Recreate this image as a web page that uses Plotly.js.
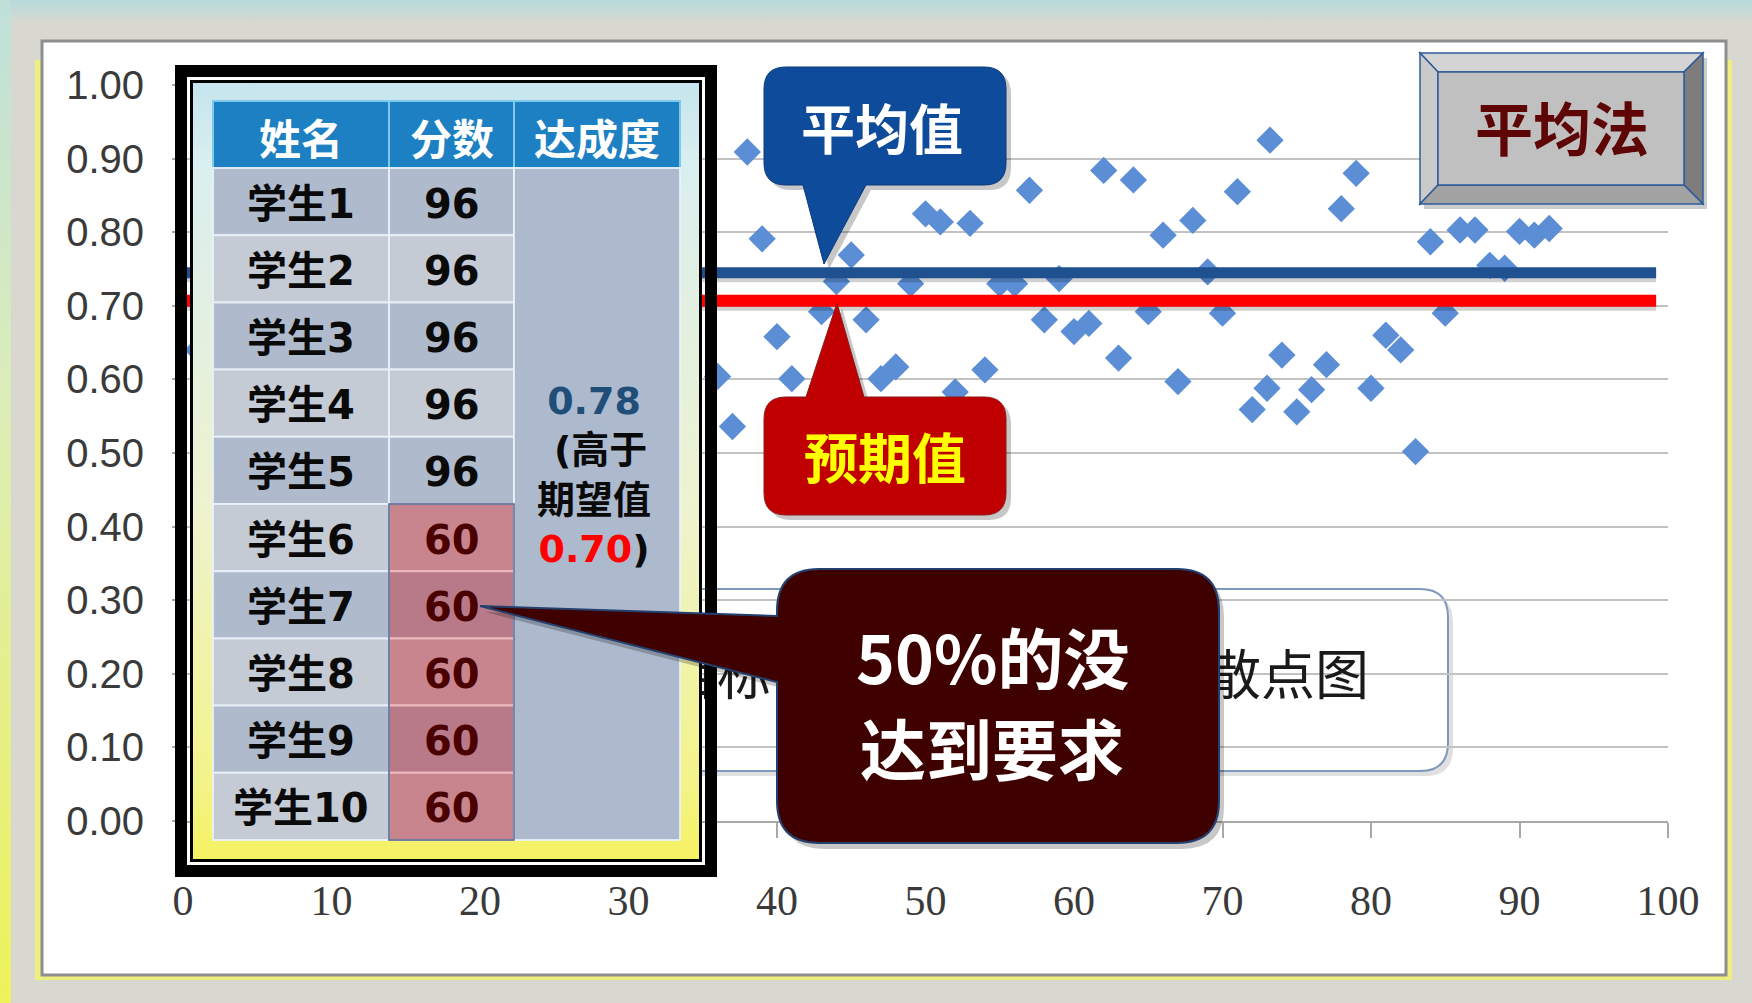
<!DOCTYPE html>
<html><head><meta charset="utf-8">
<script src="https://cdn.plot.ly/plotly-3.0.1.min.js"></script>
<style>html,body{margin:0;padding:0;background:#d9d8d0;overflow:hidden}#chart{width:1752px;height:1003px}</style>
</head><body><div id="chart"></div>
<script>
// ---------- data ----------
const xTicks = [0,10,20,30,40,50,60,70,80,90,100];
const yTicks = [0,0.1,0.2,0.3,0.4,0.5,0.6,0.7,0.8,0.9,1.0];
const yTickLabels = ['0.00','0.10','0.20','0.30','0.40','0.50','0.60','0.70','0.80','0.90','1.00'];
const pointX = [1,36,37,38,39,40,41,43,44,45,46,47,48,49,50,51,52,53,54,55,56,57,58,59,60,61,62,63,64,65,66,67,68,69,70,71,72,73,73.2,74,75,76,77,78,79,80,81,82,83,84,85,86,87,88,89,90,91,92];
const pointY = [0.64,0.604,0.536,0.909,0.791,0.658,0.601,0.692,0.733,0.769,0.681,0.601,0.617,0.730,0.825,0.814,0.583,0.812,0.613,0.730,0.730,0.857,0.681,0.737,0.665,0.676,0.884,0.629,0.871,0.692,0.796,0.597,0.816,0.746,0.690,0.855,0.559,0.588,0.925,0.633,0.556,0.586,0.620,0.832,0.880,0.588,0.660,0.640,0.502,0.787,0.690,0.803,0.803,0.755,0.751,0.801,0.796,0.805];
const lineX = [0, 99.2];
const meanLine = [0.745, 0.745];
const expectLine = [0.707, 0.707];
const headers = ['姓名','分数','达成度'];
const names = ['学生1','学生2','学生3','学生4','学生5','学生6','学生7','学生8','学生9','学生10'];
const scores = [96,96,96,96,96,60,60,60,60,60];
const attainment = '0.78';
const expected = '0.70';
const passMark = 70;
const meanLabel = '平均值';
const expectLabel = '预期值';
const failLabel = ['50%的没','达到要求'];
const methodLabel = '平均法';
const boxLabelLeft = '目标';
const boxLabelRight = '散点图';

// ---------- geometry helpers (pixels -> paper) ----------
const W = 1752, H = 1003, L = 183, R = 1668, T = 85, B = 821;
const fx = p => (p - L) / (R - L);
const fy = p => (B - p) / (B - T);
const pt = (x, y) => fx(x).toFixed(5) + ' ' + fy(y).toFixed(5);
const dx = p => (p - L) / (R - L) * 100;
const dy = p => (B - p) / (B - T);

const shapes = [];
const ann = [];
const images = [];
function rect(x0, y0, x1, y1, fill, line, lw, layer) {
  shapes.push({type:'rect', xref:'paper', yref:'paper', x0:fx(x0), x1:fx(x1), y0:fy(y1), y1:fy(y0),
    fillcolor: fill || 'rgba(0,0,0,0)', line:{color: line || 'rgba(0,0,0,0)', width: lw || 0}, layer: layer || 'above'});
}
function path(d, fill, line, lw, layer) {
  shapes.push({type:'path', xref:'paper', yref:'paper', path:d, fillcolor: fill || 'rgba(0,0,0,0)',
    line:{color: line || 'rgba(0,0,0,0)', width: lw || 0}, layer: layer || 'above'});
}
function poly(pts) { return 'M ' + pts.map(p => pt(p[0], p[1])).join(' L ') + ' Z'; }
function rr(x0, y0, x1, y1, r, tail) {
  tail = tail || {};
  const seg = a => (a || []).map(p => 'L ' + pt(p[0], p[1]) + ' ').join('');
  let d = 'M ' + pt(x0 + r, y0) + ' ' + seg(tail.top);
  d += 'L ' + pt(x1 - r, y0) + ' Q ' + pt(x1, y0) + ' ' + pt(x1, y0 + r) + ' ';
  d += 'L ' + pt(x1, y1 - r) + ' Q ' + pt(x1, y1) + ' ' + pt(x1 - r, y1) + ' ' + seg(tail.bottom);
  d += 'L ' + pt(x0 + r, y1) + ' Q ' + pt(x0, y1) + ' ' + pt(x0, y1 - r) + ' ' + seg(tail.left);
  d += 'L ' + pt(x0, y0 + r) + ' Q ' + pt(x0, y0) + ' ' + pt(x0 + r, y0) + ' Z';
  return d;
}
function text(x, y, t, size, color, family, weight, extra) {
  ann.push(Object.assign({xref:'paper', yref:'paper', x:fx(x), y:fy(y), text:t, showarrow:false,
    xanchor:'center', yanchor:'middle', align:'center',
    font:{size:size, color:color, family:family || 'Noto Sans CJK SC', weight: weight || 700}}, extra || {}));
}
function svgUri(s) { return 'data:image/svg+xml;charset=utf-8,' + encodeURIComponent(s); }
function img(svg, x0, y0, x1, y1, layer) {
  images.push({source: svgUri(svg), xref:'paper', yref:'paper', x:fx(x0), y:fy(y0),
    sizex:(x1 - x0) / (R - L), sizey:(y1 - y0) / (B - T), xanchor:'left', yanchor:'top', sizing:'stretch', layer: layer});
}

// ---------- background frame ----------
img(`<svg xmlns='http://www.w3.org/2000/svg' width='${W}' height='${H}' viewBox='0 0 ${W} ${H}' preserveAspectRatio='none'>
<defs>
<linearGradient id='l' x1='0' y1='0' x2='0' y2='1'><stop offset='0' stop-color='#bfe0da'/><stop offset='0.4' stop-color='#dcedb8'/><stop offset='1' stop-color='#eef25a'/></linearGradient>
<linearGradient id='t' x1='0' y1='0' x2='0' y2='1'><stop offset='0' stop-color='#b6dbdb'/><stop offset='1' stop-color='#d9d8d0'/></linearGradient>
</defs>
<rect width='${W}' height='${H}' fill='#d9d8d0'/>
<rect width='${W}' height='24' fill='url(#t)'/>
<rect width='11' height='${H}' fill='url(#l)'/>
<rect x='35' y='60' width='1697' height='920' fill='#eef07e'/>
<rect x='42' y='41' width='1684' height='934' fill='#ffffff' stroke='#8e8e8e' stroke-width='3'/>
</svg>`, 0, 0, W, H, 'below');

// ---------- white label box (between grid and traces) ----------
path(rr(674, 594, 1453, 776, 28), 'rgba(0,0,0,0.12)', null, 0, 'between');
path(rr(670, 589, 1448, 771, 28), '#ffffff', '#7f98bd', 2, 'between');

// ---------- table ----------
img(`<svg xmlns='http://www.w3.org/2000/svg' width='506' height='776' viewBox='0 0 506 776' preserveAspectRatio='none'>
<defs><linearGradient id='g' x1='0' y1='0' x2='0' y2='1'><stop offset='0' stop-color='#c6e5ee'/><stop offset='0.1' stop-color='#d9eeef'/><stop offset='0.55' stop-color='#eef3cf'/><stop offset='0.9' stop-color='#f3f38a'/><stop offset='1' stop-color='#f5f262'/></linearGradient></defs>
<rect width='506' height='776' fill='url(#g)'/></svg>`, 193, 83, 699, 859, 'above');
rect(181, 71, 711, 871, null, '#000000', 12);
rect(191.5, 81.5, 700.5, 860.5, null, '#000000', 3);

const colX = [213, 389, 514, 680];
const headTop = 101, rowTop = 168, rowH = 67.2;
for (let c = 0; c < headers.length; c++) {
  rect(colX[c], headTop, colX[c + 1], rowTop, '#1c80c3', '#7fc8ee', 2);
  text((colX[c] + colX[c + 1]) / 2, (headTop + rowTop) / 2 + 2, headers[c], 42, '#ffffff');
}
for (let i = 0; i < names.length; i++) {
  const y0 = rowTop + rowH * i, y1 = y0 + rowH, ym = (y0 + y1) / 2;
  const odd = i % 2 === 0;
  const grey = odd ? '#afbbcc' : '#c5cbd4';
  const fail = scores[i] < passMark;
  const pink = odd ? '#b87a88' : '#c8858d';
  rect(colX[0], y0, colX[1], y1, grey, 'rgba(235,242,250,0.85)', 2);
  rect(colX[1], y0, colX[2], y1, fail ? pink : grey, fail ? 'rgba(240,190,195,0.9)' : 'rgba(235,242,250,0.85)', 2);
  text((colX[0] + colX[1]) / 2, ym + 2, names[i], 40, '#0a0a0a', 'DejaVu Sans, Noto Sans CJK SC', 700);
  text((colX[1] + colX[2]) / 2, ym + 2, String(scores[i]), 40, fail ? '#4a0000' : '#0a0a0a', 'DejaVu Sans', 700);
}
rect(colX[2], rowTop, colX[3], rowTop + rowH * names.length, '#adb9cc', 'rgba(235,242,250,0.85)', 2);
{
  const firstFail = scores.findIndex(s => s < passMark);
  rect(colX[1], rowTop + rowH * firstFail, colX[2], rowTop + rowH * names.length, null, '#4c6a9c', 1.5);
}
text(594, 475,
  `<span style="color:#1f4e79">${attainment}</span><br> (高于<br>期望值<br><span style="color:#ff0000">${expected}</span>)`,
  38, '#0a0a0a', 'DejaVu Sans, Noto Sans CJK SC', 700);

// ---------- callouts ----------
path(rr(769, 72, 1011, 190, 22, {bottom:[[871,190],[829,269],[808,190]]}), 'rgba(0,0,0,0.22)');
path(rr(764, 67, 1006, 185, 22, {bottom:[[866,185],[824,264],[803,185]]}), '#0f4b9b', '#0b3a7c', 1);
text(882, 126, meanLabel, 54, '#ffffff');

path(rr(769, 402, 1011, 520, 22, {top:[[811,402],[842,308],[869,402]]}), 'rgba(0,0,0,0.22)');
path(rr(764, 397, 1006, 515, 22, {top:[[806,397],[837,303],[864,397]]}), '#c00000', '#8c1a1a', 1);
text(885, 455, expectLabel, 54, '#ffff00');

path(rr(782, 575, 1224, 849, 42, {left:[[782,688],[485,612],[782,622]]}), 'rgba(0,0,0,0.22)');
path(rr(777, 569, 1219, 843, 42, {left:[[777,682],[480,606],[777,616]]}), '#3f0000', '#24406e', 2);
text(992, 655, failLabel[0], 66, '#ffffff');
text(992, 746, failLabel[1], 66, '#ffffff');

// ---------- method button ----------
const bo = [1420, 53, 1703, 204], bi = [1438, 72, 1684, 185];
rect(bo[0] + 4, bo[1] + 5, bo[2] + 4, bo[3] + 5, 'rgba(0,0,0,0.2)');
path(poly([[bo[0],bo[1]],[bo[2],bo[1]],[bi[2],bi[1]],[bi[0],bi[1]]]), '#d4d4d4', '#2e5c9a', 1.5);
path(poly([[bo[0],bo[1]],[bi[0],bi[1]],[bi[0],bi[3]],[bo[0],bo[3]]]), '#cacaca', '#2e5c9a', 1.5);
path(poly([[bo[2],bo[1]],[bo[2],bo[3]],[bi[2],bi[3]],[bi[2],bi[1]]]), '#7d7d7d', '#2e5c9a', 1.5);
path(poly([[bo[0],bo[3]],[bo[2],bo[3]],[bi[2],bi[3]],[bi[0],bi[3]]]), '#a3a3a3', '#2e5c9a', 1.5);
rect(bi[0], bi[1], bi[2], bi[3], '#c0c0c0', '#2e5c9a', 1.5);
text(1562, 126, methodLabel, 58, '#5e0606');

// ---------- traces ----------
const shadowOff = 4 / (B - T);
const traces = [
  {type:'scatter', mode:'text', x:[dx(771), dx(1369)], y:[dy(681), dy(681)], text:[boxLabelLeft, boxLabelRight],
   textposition:'middle left', textfont:{family:'Noto Sans CJK SC', size:54, color:'#1a1a1a'}, hoverinfo:'skip'},
  {type:'scatter', mode:'markers', x:pointX, y:pointY,
   marker:{symbol:'diamond', size:21, color:'#5b8ed4', line:{width:0}}, hoverinfo:'skip'},
  {type:'scatter', mode:'lines', x:lineX, y:meanLine.map(v => v - shadowOff), line:{color:'rgba(0,0,0,0.18)', width:11}, hoverinfo:'skip'},
  {type:'scatter', mode:'lines', x:lineX, y:meanLine, line:{color:'#1f5191', width:11}, hoverinfo:'skip'},
  {type:'scatter', mode:'lines', x:lineX, y:expectLine.map(v => v - shadowOff), line:{color:'rgba(0,0,0,0.18)', width:12}, hoverinfo:'skip'},
  {type:'scatter', mode:'lines', x:lineX, y:expectLine, line:{color:'#ff0000', width:12}, hoverinfo:'skip'}
];

const layout = {
  width:W, height:H, margin:{l:L, r:W - R, t:T, b:H - B, pad:0},
  paper_bgcolor:'#d9d8d0', plot_bgcolor:'rgba(0,0,0,0)', showlegend:false,
  xaxis:{range:[0,100], tickvals:xTicks, ticktext:xTicks.map(String), showgrid:false, zeroline:false,
    showline:true, linecolor:'#a8a8a8', linewidth:2, ticks:'outside', ticklen:15, tickwidth:2, tickcolor:'#a8a8a8',
    ticklabelstandoff:27, tickfont:{family:'Liberation Serif', size:42, color:'#3a3a3a'}, fixedrange:true},
  yaxis:{range:[0,1], tickvals:yTicks, ticktext:yTickLabels, showgrid:true, gridcolor:'#c2c2c2', gridwidth:2,
    zeroline:false, showline:false, ticks:'outside', ticklen:10, tickwidth:2, tickcolor:'#a8a8a8',
    ticklabelstandoff:20, tickfont:{family:'Liberation Sans', size:40, color:'#3a3a3a'}, fixedrange:true},
  shapes:shapes, annotations:ann, images:images
};
Plotly.newPlot('chart', traces, layout, {staticPlot:true, displayModeBar:false});
</script></body></html>
